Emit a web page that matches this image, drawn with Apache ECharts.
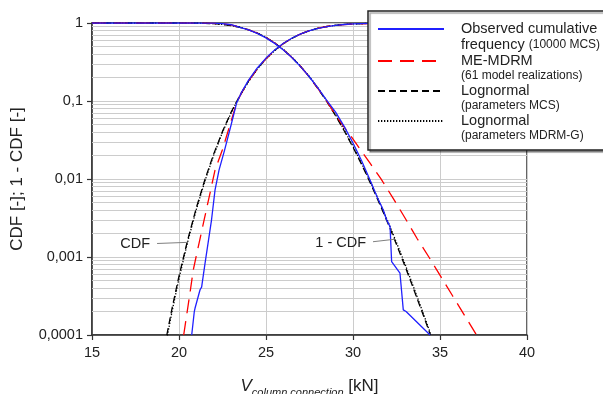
<!DOCTYPE html>
<html><head><meta charset="utf-8">
<script src="https://cdn.jsdelivr.net/npm/echarts@6/dist/echarts.min.js"></script>
<style>html,body{margin:0;padding:0;background:#fff}#c{width:603px;height:394px}</style>
</head><body><div id="c"></div>
<script>
const FONT = "'Liberation Sans', Arial, sans-serif";
const TXT = '#222';

// axis ticks
const xMin = 15, xMax = 40, xStep = 5;
const yTickLabels = ['0,0001', '0,001', '0,01', '0,1', '1'];
const minorMultipliers = [2, 3, 4, 5, 6, 7, 8, 9];
const decades = [0.0001, 0.001, 0.01, 0.1];

// series names / legend labels
const seriesNames = ['Observed', 'ME-MDRM', 'LognormalMCS', 'LognormalMDRMG'];
const legendLabels = [
  'Observed cumulative\nfrequency {s|(10000 MCS)}',
  'ME-MDRM\n{s|(61 model realizations)}',
  'Lognormal\n{s|(parameters MCS)}',
  'Lognormal\n{s|(parameters MDRM-G)}'
];

// Lognormal (parameters MCS) and Lognormal (parameters MDRM-G)
const lnXCdf = [19.3, 19.6, 20, 20.5, 21, 21.5, 22, 22.5, 23, 23.5, 24, 24.5, 25, 25.5, 26, 26.5, 27, 27.5, 28, 28.5, 29, 29.5, 30, 31, 32, 33, 34, 35, 36, 38, 40];
const mcsCdf = [0.0001, 0.00022, 0.00057, 0.00166, 0.0043, 0.0100, 0.0211, 0.0408, 0.0722, 0.118, 0.181, 0.259, 0.349, 0.446, 0.546, 0.640, 0.725, 0.798, 0.857, 0.902, 0.935, 0.959, 0.9745, 0.9912, 0.9973, 0.9993, 0.9998, 0.99996, 0.99999, 1, 1];
const mdrmCdf = [0.00009, 0.0002, 0.00053, 0.00157, 0.0041, 0.0096, 0.0204, 0.0397, 0.0706, 0.116, 0.178, 0.256, 0.346, 0.443, 0.543, 0.637, 0.722, 0.796, 0.855, 0.901, 0.934, 0.958, 0.974, 0.991, 0.9972, 0.9992, 0.9998, 0.99995, 0.99999, 1, 1];
const lnXExc = [15, 18, 19.3, 20, 20.5, 21, 21.5, 22, 22.5, 23, 23.5, 24, 24.5, 25, 25.5, 26, 26.5, 27, 27.5, 28, 28.5, 29, 29.5, 30, 30.5, 31, 31.5, 32, 32.5, 33, 33.5, 34, 34.45];
const mcsExc = [1, 0.99999, 0.9999, 0.99943, 0.99834, 0.9957, 0.990, 0.9789, 0.9592, 0.9278, 0.882, 0.819, 0.741, 0.651, 0.554, 0.454, 0.360, 0.275, 0.202, 0.143, 0.098, 0.0648, 0.0413, 0.0255, 0.0153, 0.00885, 0.00497, 0.00273, 0.00145, 0.00075, 0.00038, 0.00019, 0.0001];
const mdrmExc = [1, 0.99999, 0.99991, 0.99947, 0.99843, 0.9959, 0.9904, 0.9796, 0.9603, 0.9294, 0.884, 0.822, 0.744, 0.654, 0.557, 0.457, 0.363, 0.278, 0.205, 0.146, 0.100, 0.0663, 0.0424, 0.0263, 0.0158, 0.0092, 0.0052, 0.00287, 0.00153, 0.0008, 0.0004, 0.0002, 0.000105];

// ME-MDRM
const meXCdf = [20.27, 20.59, 20.82, 20.98, 21.46, 21.82, 22.07, 22.49, 22.9, 23.31, 23.6, 24, 24.5, 25, 25.5, 26, 26.5, 27, 27.5, 28, 28.5, 29, 29.5, 30, 31, 32, 33, 34, 35, 36, 37.1, 40];
const meCdf = [0.0001, 0.0003, 0.00068, 0.001, 0.0031, 0.0072, 0.013, 0.0235, 0.047, 0.094, 0.128, 0.181, 0.259, 0.349, 0.446, 0.546, 0.640, 0.725, 0.798, 0.857, 0.902, 0.934, 0.956, 0.969, 0.9835, 0.9935, 0.997, 0.999, 0.9995, 0.9998, 0.9999, 1];
const meXExc = [15, 20.27, 21, 21.5, 22, 22.5, 23, 23.5, 24, 24.5, 25, 25.5, 26, 26.5, 27, 27.5, 28, 28.5, 29, 29.5, 29.9, 30.5, 31, 31.6, 32.3, 33.05, 33.7, 34.36, 35.05, 35.73, 36.4, 37.1];
const meExc = [1, 0.9999, 0.9989, 0.9965, 0.988, 0.977, 0.945, 0.882, 0.819, 0.741, 0.651, 0.554, 0.454, 0.360, 0.275, 0.202, 0.143, 0.099, 0.066, 0.046, 0.035, 0.0226, 0.0157, 0.0101, 0.0057, 0.003, 0.0017, 0.001, 0.00056, 0.000316, 0.00018, 0.0001];

// Observed cumulative frequency (10000 MCS)
const obsXCdf = [20.73, 20.88, 20.92, 21.21, 21.3, 21.44, 21.5, 21.87, 22.07, 22.3, 22.62, 23.0, 23.31, 23.6, 24, 24.5, 25, 25.5, 26, 26.5, 27, 27.5, 28, 28.5, 29, 29.5, 30, 31, 32, 33, 34.5, 40];
const obsCdf = [0.0001, 0.0002, 0.00022, 0.00038, 0.00041, 0.00068, 0.00084, 0.003, 0.0072, 0.013, 0.0235, 0.05, 0.094, 0.13, 0.185, 0.265, 0.355, 0.452, 0.55, 0.642, 0.726, 0.798, 0.856, 0.901, 0.934, 0.957, 0.972, 0.9905, 0.9975, 0.9995, 1, 1];
const obsXExc = [15, 20.73, 21.5, 22, 22.5, 23, 23.5, 24, 24.5, 25, 25.5, 26, 26.5, 27, 27.5, 28, 28.5, 29, 29.5, 30, 30.5, 30.98, 31.4, 31.74, 31.93, 32.13, 32.22, 32.7, 32.89, 33.05, 34.43];
const obsExc = [1, 0.9999, 0.9992, 0.996, 0.981, 0.95, 0.878, 0.815, 0.735, 0.645, 0.548, 0.45, 0.358, 0.274, 0.203, 0.145, 0.101, 0.072, 0.047, 0.029, 0.017, 0.0097, 0.0058, 0.004, 0.003, 0.00245, 0.00087, 0.00062, 0.00021, 0.0002, 0.0001];

// annotation leader lines (data coords)
const annCdf = { label: 'CDF', from: [18.74, 0.00149], to: [20.46, 0.00154] };
const annExc = { label: '1 - CDF', from: [31.15, 0.00157], to: [32.41, 0.00169] };

const pairs = (xs, ys) => xs.map((x, i) => [x, ys[i]]);
const minorGrid = [];
decades.forEach(d => minorMultipliers.forEach(m => {
  const v = +(d * m).toPrecision(3);
  minorGrid.push([{ coord: [xMin, v] }, { coord: [xMax, v] }]);
}));

const styles = {
  Observed: { color: '#2020ff', width: 1.3, type: 'solid' },
  'ME-MDRM': { color: '#ff0000', width: 1.3, type: [14, 8] },
  LognormalMCS: { color: '#000000', width: 1.3, type: [7, 4] },
  LognormalMDRMG: { color: '#000000', width: 1.3, type: [1.3, 1.7] }
};

function mk(name, data, extra) {
  const s = styles[name];
  return Object.assign({
    name, type: 'line', data, symbol: 'none', showSymbol: false, smooth: false,
    lineStyle: { color: s.color, width: s.width, type: s.type },
    itemStyle: { color: s.color },
    emphasis: { disabled: true }, animation: false, z: 2
  }, extra || {});
}

const series = [
  mk('LognormalMCS', pairs(lnXCdf, mcsCdf), {
    markLine: {
      silent: true, z: 1, symbol: ['none', 'none'], animation: false,
      label: { show: false },
      lineStyle: { color: '#cccccc', width: 1, type: 'solid' },
      emphasis: { disabled: true },
      data: minorGrid
    }
  }),
  mk('LognormalMCS', pairs(lnXExc, mcsExc)),
  mk('LognormalMDRMG', pairs(lnXCdf, mdrmCdf), {
    markLine: {
      silent: true, symbol: ['none', 'none'], animation: false,
      lineStyle: { color: '#808080', width: 1, type: 'solid' },
      emphasis: { disabled: true },
      label: { show: true, position: 'start', formatter: '{b}', color: TXT, fontSize: 14.5, fontFamily: FONT, distance: 7 },
      data: [
        [{ name: annCdf.label, coord: annCdf.from }, { coord: annCdf.to }],
        [{ name: annExc.label, coord: annExc.from }, { coord: annExc.to }]
      ]
    }
  }),
  mk('LognormalMDRMG', pairs(lnXExc, mdrmExc)),
  mk('ME-MDRM', pairs(meXCdf, meCdf)),
  mk('ME-MDRM', pairs(meXExc, meExc)),
  mk('Observed', pairs(obsXCdf, obsCdf)),
  mk('Observed', pairs(obsXExc, obsExc))
];

const legendPadTop = [16, 14, 14, 14];

const chart = echarts.init(document.getElementById('c'), null, { renderer: 'canvas' });
chart.setOption({
  animation: false,
  backgroundColor: '#ffffff',
  textStyle: { fontFamily: FONT },
  grid: { left: 92, right: 76, top: 23, bottom: 59, show: true, borderColor: '#333', borderWidth: 1.5, backgroundColor: 'transparent', containLabel: false, outerBoundsMode: 'none' },
  xAxis: {
    type: 'value', min: xMin, max: xMax, interval: xStep,
    name: '{v|V}{s|column,connection} {u|[kN]}',
    nameLocation: 'middle', nameGap: 40,
    nameTextStyle: {
      color: TXT, fontFamily: FONT, fontSize: 17,
      rich: {
        v: { fontSize: 17, fontStyle: 'italic', fontFamily: FONT, color: TXT },
        s: { fontSize: 11, fontStyle: 'italic', fontFamily: FONT, color: TXT, padding: [12, 0, 0, 0] },
        u: { fontSize: 17, fontFamily: FONT, color: TXT }
      }
    },
    axisLine: { show: true, onZero: false, lineStyle: { color: '#333', width: 1.5 } },
    axisTick: { show: true, inside: false, length: 5, lineStyle: { color: '#333', width: 1.2 } },
    axisLabel: { color: TXT, fontSize: 14.5, fontFamily: FONT, margin: 10 },
    splitLine: { show: true, lineStyle: { color: '#cccccc', width: 1 } }
  },
  yAxis: {
    type: 'log', logBase: 10, min: 0.0001, max: 1,
    name: 'CDF [-]; 1 - CDF [-]',
    nameLocation: 'middle', nameGap: 66,
    nameTextStyle: { color: TXT, fontFamily: FONT, fontSize: 17 },
    axisLine: { show: true, onZero: false, lineStyle: { color: '#333', width: 1.5 } },
    axisTick: { show: true, inside: false, length: 5, lineStyle: { color: '#333', width: 1.2 } },
    axisLabel: {
      color: TXT, fontSize: 14.5, fontFamily: FONT, margin: 9,
      formatter: v => yTickLabels[Math.round(Math.log10(v)) + 4]
    },
    splitLine: { show: true, lineStyle: { color: '#cccccc', width: 1 } }
  },
  legend: {
    show: true, orient: 'vertical', left: 377, top: 5, padding: 0,
    itemWidth: 66, itemHeight: 14, itemGap: -14, z: 20,
    selectedMode: false,
    itemStyle: { opacity: 0 },
    data: seriesNames.map((n, i) => ({ name: n, textStyle: { padding: [legendPadTop[i], 0, 0, 12] } })),
    formatter: name => legendLabels[seriesNames.indexOf(name)],
    textStyle: {
      color: TXT, fontSize: 14.5, lineHeight: 16, fontFamily: FONT,
      rich: { s: { fontSize: 12, lineHeight: 14, fontFamily: FONT, color: TXT } }
    }
  },
  graphic: [{
    type: 'rect', z: 10, silent: true,
    shape: { x: 368, y: 11, width: 260, height: 139 },
    style: { fill: '#ffffff', stroke: '#222', lineWidth: 1.5, shadowColor: 'rgba(0,0,0,0.35)', shadowOffsetX: 2, shadowOffsetY: 2, shadowBlur: 1 }
  }],
  series
});
</script>
</body></html>
